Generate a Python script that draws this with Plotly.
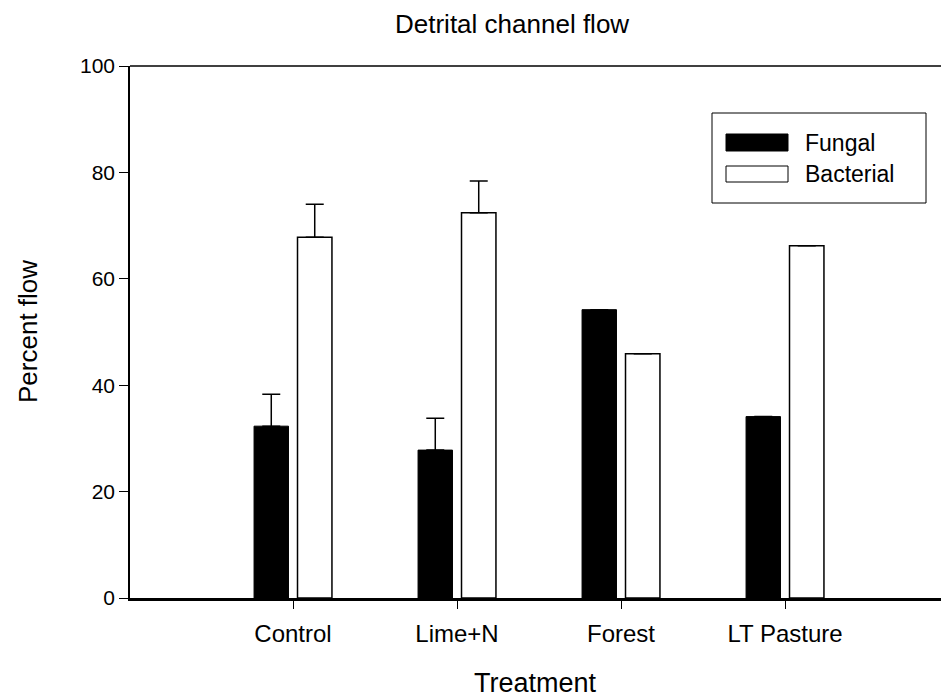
import plotly.graph_objects as go

# Treatment groups and percent of detrital flow through each channel
treatments = ["Control", "Lime+N", "Forest", "LT Pasture"]
fungal = [32.3, 27.8, 54.2, 34.1]
bacterial = [67.8, 72.4, 45.9, 66.2]
fungal_se = [6.0, 6.0, float("nan"), float("nan")]
bacterial_se = [6.2, 6.0, float("nan"), float("nan")]
y_ticks = [0, 20, 40, 60, 80, 100]

FONT = "Arial, Liberation Sans, Helvetica, sans-serif"
positions = list(range(len(treatments)))

BAR_W = 0.21      # bar width in category units
HALF_GAP = 0.0275 # half of the space between the paired bars

fig = go.Figure()
fig.add_trace(go.Bar(
    x=positions, y=fungal, name="Fungal",
    width=BAR_W, offset=-(BAR_W + HALF_GAP),
    marker=dict(color="black", line=dict(color="black", width=1)),
    error_y=dict(type="data", array=fungal_se, arrayminus=[0] * 4,
                 symmetric=False, color="black", thickness=1.5, width=9),
    showlegend=False,
))
fig.add_trace(go.Bar(
    x=positions, y=bacterial, name="Bacterial",
    width=BAR_W, offset=HALF_GAP,
    marker=dict(color="white", line=dict(color="black", width=1.5)),
    error_y=dict(type="data", array=bacterial_se, arrayminus=[0] * 4,
                 symmetric=False, color="black", thickness=1.5, width=9),
    showlegend=False,
))

# plot area in pixels: x 130..941, y 66..598
L, R, T, B = 130, 941, 66, 598
W, H = 941, 700


def px(x):
    return (x - L) / (R - L)


def py(y):
    return (B - y) / (B - T)


def label(text, x, y, size, angle=0, anchor="center"):
    return dict(text=text, xref="paper", yref="paper", x=px(x), y=py(y),
                xanchor=anchor, yanchor="middle", showarrow=False,
                textangle=angle,
                font=dict(family=FONT, size=size, color="black"))


shapes = [
    # top frame line running off the right edge
    dict(type="line", xref="paper", yref="paper", x0=0, x1=1, y0=1, y1=1,
         line=dict(color="black", width=1.5)),
    # legend box with wide swatches
    dict(type="rect", xref="paper", yref="paper",
         x0=px(712), x1=px(926), y0=py(203), y1=py(113),
         line=dict(color="black", width=1), fillcolor="white", layer="above"),
    dict(type="rect", xref="paper", yref="paper",
         x0=px(726), x1=px(788), y0=py(151), y1=py(134),
         line=dict(color="black", width=1), fillcolor="black", layer="above"),
    dict(type="rect", xref="paper", yref="paper",
         x0=px(726), x1=px(788), y0=py(182), y1=py(166),
         line=dict(color="black", width=1), fillcolor="white", layer="above"),
]
annotations = [
    label("Fungal", 803, 143, 23, anchor="left"),
    label("Bacterial", 803, 174, 23, anchor="left"),
    label("Detrital channel flow", 512, 24, 26),
    label("Treatment", 535, 683, 27),
    label("Percent flow", 28, 332, 26, angle=-90),
]

fig.update_layout(
    width=W, height=H,
    margin=dict(l=L, r=W - R, t=T, b=H - B, pad=0),
    paper_bgcolor="white", plot_bgcolor="white",
    font=dict(family=FONT, color="black"),
    shapes=shapes, annotations=annotations,
    xaxis=dict(
        range=[-(293 - L) / 164, (R - 293) / 164],
        tickmode="array", tickvals=positions, ticktext=treatments,
        ticks="outside", ticklen=8, tickwidth=1, tickcolor="black",
        ticklabelstandoff=4,
        tickfont=dict(family=FONT, size=24, color="black"),
        showline=True, linecolor="black", linewidth=2.5,
        showgrid=False, zeroline=False,
    ),
    yaxis=dict(
        range=[0, 100], tickmode="array", tickvals=y_ticks,
        ticks="outside", ticklen=9, tickwidth=1, tickcolor="black",
        tickfont=dict(family=FONT, size=21, color="black"),
        showline=True, linecolor="black", linewidth=1.5,
        showgrid=False, zeroline=False,
    ),
)

fig.write_html("out.html")
